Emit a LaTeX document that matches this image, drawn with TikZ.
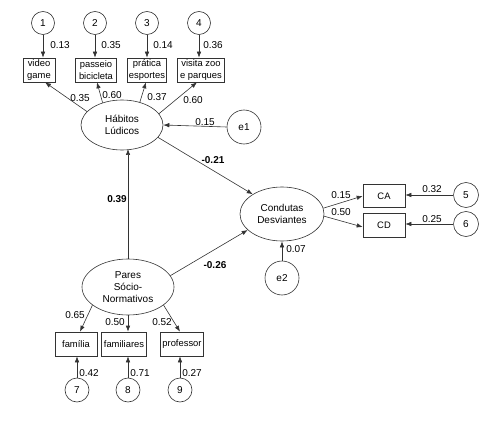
\documentclass[tikz,border=0pt]{standalone}
\usepackage{fontspec}
\setmainfont{Liberation Sans}
\usetikzlibrary{arrows.meta,shapes.geometric}
\begin{document}
\begin{tikzpicture}[x=1pt,y=-1pt,
 line/.style={draw=black!80, line width=0.6pt},
 arr/.style={line, -{Latex[length=6pt,width=4.5pt]}},
 err/.style={circle, draw=black!80, line width=0.6pt, minimum size=23pt, inner sep=0pt, font=\fontsize{10}{12}\selectfont},
 bigerr/.style={err, minimum size=34pt},
 obs/.style={rectangle, draw=black!80, line width=0.6pt, minimum height=24pt, inner sep=1pt, align=center, font=\fontsize{9.4}{11.5}\selectfont},
 lat/.style={ellipse, draw=black!80, line width=0.6pt, inner sep=0pt, align=center, font=\fontsize{10}{12}\selectfont},
 lab/.style={font=\fontsize{10}{12}\selectfont, inner sep=1pt},
 blab/.style={font=\fontsize{10}{12}\selectfont\bfseries, inner sep=1pt}
]
\useasboundingbox (0,0) rectangle (500,422);

% top error circles
\node[err] (c1) at (43,23) {1};
\node[err] (c2) at (95,23) {2};
\node[err] (c3) at (147,23) {3};
\node[err] (c4) at (199,23) {4};
% top indicators
\node[obs, minimum width=32pt] (b1) at (39,70) {video\\game};
\node[obs, minimum width=41pt] (b2) at (96,70) {passeio\\bicicleta};
\node[obs, minimum width=39pt] (b3) at (147,70) {prática\\esportes};
\node[obs, minimum width=47pt] (b4) at (201,70) {visita zoo\\e parques};

% latent variables
\node[lat, minimum width=82pt, minimum height=50pt] (H) at (122,125) {Hábitos\\Lúdicos};
\node[bigerr] (e1) at (244,127) {e1};
\node[lat, minimum width=84pt, minimum height=54pt] (C) at (282,214) {Condutas\\Desviantes};
\node[bigerr] (e2) at (282,278) {e2};
\node[lat, minimum width=92pt, minimum height=56pt] (P) at (128,287) {Pares\\Sócio-\\Normativos};

% right indicators
\node[obs, minimum width=42pt, minimum height=23pt] (CA) at (384,196) {CA};
\node[obs, minimum width=42pt, minimum height=24pt] (CD) at (384,225) {CD};
\node[err, minimum size=25pt] (c5) at (466,195) {5};
\node[err, minimum size=25pt] (c6) at (466,224) {6};

% bottom indicators
\node[obs, minimum width=42pt] (f1) at (76,344) {família};
\node[obs, minimum width=45pt] (f2) at (124,344) {familiares};
\node[obs, minimum width=43pt] (f3) at (182,344) {professor};
\node[err, minimum size=24pt] (c7) at (77,390) {7};
\node[err, minimum size=24pt] (c8) at (128,390) {8};
\node[err, minimum size=24pt] (c9) at (180,390) {9};

% arrows top
\draw[arr] (c1.south) -- (c1.south |- b1.north);
\draw[arr] (c2.south) -- (c2.south |- b2.north);
\draw[arr] (c3.south) -- (c3.south |- b3.north);
\draw[arr] (c4.south) -- (c4.south |- b4.north);
\draw[arr] (H.159) -- ([xshift=6pt]b1.south);
\draw[arr] (H.131) -- ([xshift=1pt]b2.south);
\draw[arr] (H.52) -- ([xshift=-1pt]b3.south);
\draw[arr] (H.17) -- ([xshift=-4pt]b4.south);
\draw[arr] (e1.west) -- (H.east);

% structural paths
\draw[arr] (P.north -| 128,0) -- (128,149);
\draw[arr] (H.341) -- (C.146);
\draw[arr] (P.15) -- (C.205);
\draw[arr] (e2.north) -- (C.south);

% right
\draw[arr] (C.8) -- (CA.west);
\draw[arr] (C.357) -- ([yshift=-2pt]CD.west);
\draw[arr] (c5.west) -- (c5.west -| CA.east);
\draw[arr] (c6.west) -- (c6.west -| CD.east);

% bottom
\draw[arr] (P.207) -- ([xshift=4pt]f1.north);
\draw[arr] (P.south) -- (P.south |- f2.north);
\draw[arr] (P.333) -- ([xshift=-2pt]f3.north);
\draw[arr] (c7.north) -- (c7.north |- f1.south);
\draw[arr] (c8.north) -- (c8.north |- f2.south);
\draw[arr] (c9.north) -- (c9.north |- f3.south);

% labels
\node[lab] (l1) at (60,45) {0.13};
\node[lab] (l2) at (111,45) {0.35};
\node[lab] (l3) at (163,45) {0.14};
\node[lab] (l4) at (213,45) {0.36};
\node[lab] (l5) at (80,98) {0.35};
\node[lab] (l6) at (112,95) {0.60};
\node[lab] (l7) at (157,97) {0.37};
\node[lab] (l8) at (193,100) {0.60};
\node[lab] (l9) at (205,122) {0.15};
\node[blab] (l10) at (213,160) {-0.21};
\node[blab] (l11) at (117,199) {0.39};
\node[blab] (l12) at (215,265) {-0.26};
\node[lab] (l13) at (341,195) {0.15};
\node[lab] (l14) at (341,212) {0.50};
\node[lab] (l15) at (432,189) {0.32};
\node[lab] (l16) at (432,219) {0.25};
\node[lab] (l17) at (296,249) {0.07};
\node[lab] (l18) at (75,315) {0.65};
\node[lab] (l19) at (115,322) {0.50};
\node[lab] (l20) at (162,322) {0.52};
\node[lab] (l21) at (89,373) {0.42};
\node[lab] (l22) at (140,373) {0.71};
\node[lab] (l23) at (192,373) {0.27};
\end{tikzpicture}
\end{document}
